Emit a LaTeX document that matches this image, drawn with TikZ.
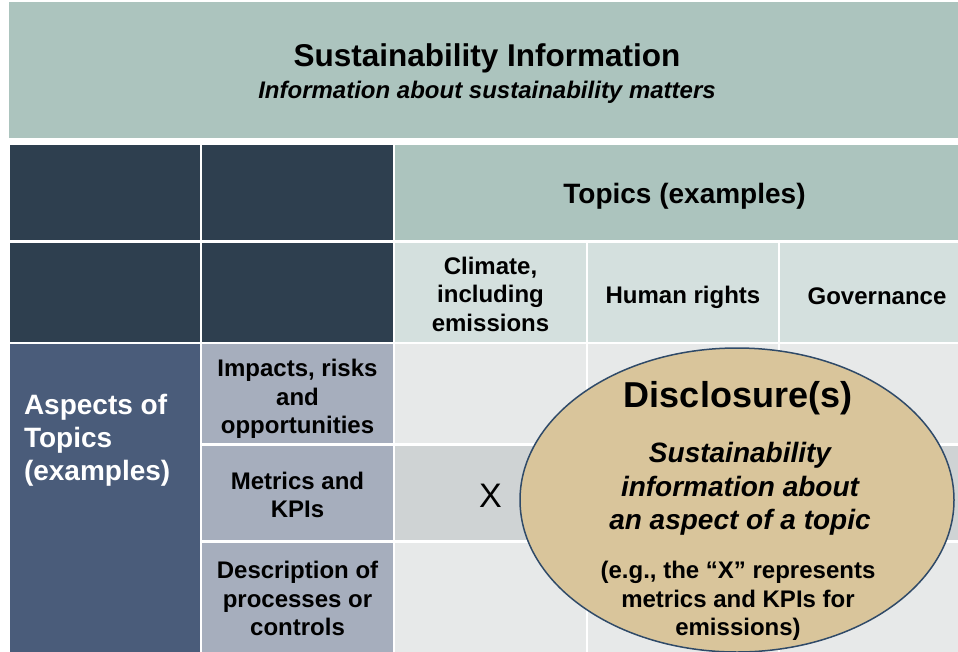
\documentclass[tikz,border=0pt]{standalone}
\usepackage{fontspec}
\setmainfont{Liberation Sans}
\usetikzlibrary{shapes.geometric}

\definecolor{bannerbg}{HTML}{ACC4BE}
\definecolor{navybg}{HTML}{2E3F4F}
\definecolor{topicbg}{HTML}{D4E0DE}
\definecolor{aspectbg}{HTML}{4A5C7A}
\definecolor{sidebg}{HTML}{A6AEBD}
\definecolor{databg}{HTML}{E7E9E9}
\definecolor{datamid}{HTML}{CFD3D4}
\definecolor{discbg}{HTML}{D9C59B}
\definecolor{discline}{HTML}{2F4A68}

% invisible strut to push a cell's text a little lower
\newcommand{\padtop}[1]{\rule{0pt}{#1}}

\begin{document}
\begin{tikzpicture}[
  x=1pt, y=-1pt,
  every node/.style={inner sep=0pt, outer sep=0pt, align=center},
  cell/.style={draw=white, line width=2.5pt, anchor=north west, font=\bfseries\fontsize{24}{28.5}\selectfont},
  darkcell/.style={cell, fill=navybg},
  topiccell/.style={cell, fill=topicbg},
  aspectcell/.style={cell, fill=aspectbg},
  sidecell/.style={cell, fill=sidebg},
  datacell/.style={cell, fill=databg},
  midcell/.style={cell, fill=datamid},
  disc/.style={ellipse, draw=discline, line width=1.5pt, fill=discbg}
]
\clip (0,0) rectangle (958,651);

% Banner
\node[fill=bannerbg, anchor=north west, minimum width=955pt, minimum height=136pt] (banner) at (9,2) {};
\node[font=\bfseries\fontsize{31.5}{36}\selectfont, anchor=base] (title) at (487,66) {Sustainability Information};
\node[font=\bfseries\itshape\fontsize{24}{28}\selectfont, anchor=base] (subtitle) at (487,98) {Information about sustainability matters};

% Topics header
\node[darkcell, minimum width=192pt, minimum height=97.5pt] (hdrA) at (9,144) {};
\node[darkcell, minimum width=193pt, minimum height=97.5pt] (hdrB) at (201,144) {};
\node[topiccell, fill=bannerbg, minimum width=581pt, minimum height=97.5pt, font=\bfseries\fontsize{28}{33}\selectfont] (topics) at (394,144) {\padtop{26.5pt}Topics (examples)};

\node[darkcell, minimum width=192pt, minimum height=101.5pt] (subA) at (9,241.5) {};
\node[darkcell, minimum width=193pt, minimum height=101.5pt] (subB) at (201,241.5) {};
\node[topiccell, minimum width=193pt, minimum height=101.5pt] (climate) at (394,241.5) {\padtop{21.6pt}Climate,\\including\\emissions};
\node[topiccell, minimum width=192pt, minimum height=101.5pt] (human) at (587,241.5) {\padtop{27.6pt}Human rights};
\node[topiccell, minimum width=196pt, minimum height=101.5pt] (gov) at (779,241.5) {\padtop{23.8pt}Governance};

% Aspects
\node[aspectcell, minimum width=192pt, minimum height=313pt] (aspects) at (9,343) {};
\node[font=\bfseries\fontsize{28}{33}\selectfont, text=white, align=left, anchor=west] (aspectsTxt) at (24,440) {Aspects of\\Topics\\(examples)};

\node[sidecell, minimum width=193pt, minimum height=101.5pt] (impacts) at (201,343) {\padtop{27.6pt}Impacts, risks\\and\\opportunities};
\node[sidecell, minimum width=193pt, minimum height=97pt] (metrics) at (201,444.5) {\padtop{21.6pt}Metrics and\\KPIs};
\node[sidecell, minimum width=193pt, minimum height=114.5pt] (descr) at (201,541.5) {Description of\\processes or\\controls};

% Grid of topic x aspect
\node[datacell, minimum width=193pt, minimum height=101.5pt] (c11) at (394,343) {};
\node[datacell, minimum width=192pt, minimum height=101.5pt] (c12) at (587,343) {};
\node[datacell, minimum width=196pt, minimum height=101.5pt] (c13) at (779,343) {};
\node[midcell, minimum width=193pt, minimum height=97pt, font=\fontsize{34}{40}\selectfont] (c21) at (394,444.5) {\padtop{28.3pt}X};
\node[midcell, minimum width=192pt, minimum height=97pt] (c22) at (587,444.5) {};
\node[midcell, minimum width=196pt, minimum height=97pt] (c23) at (779,444.5) {};
\node[datacell, minimum width=193pt, minimum height=114.5pt] (c31) at (394,541.5) {};
\node[datacell, minimum width=192pt, minimum height=114.5pt] (c32) at (587,541.5) {};
\node[datacell, minimum width=196pt, minimum height=114.5pt] (c33) at (779,541.5) {};

% Disclosure bubble
\node[disc, minimum width=434pt, minimum height=304pt] (disc) at (737,500) {};
\node[font=\bfseries\fontsize{36}{40}\selectfont] (discTitle) at (738,398) {Disclosure(s)};
\node[font=\bfseries\itshape\fontsize{28}{33.5}\selectfont] (discText) at (740,489) {Sustainability\\information about\\an aspect of a topic};
\node[font=\bfseries\fontsize{24}{28.5}\selectfont] (discNote) at (738,601) {(e.g., the “X” represents\\metrics and KPIs for\\emissions)};

\end{tikzpicture}
\end{document}
